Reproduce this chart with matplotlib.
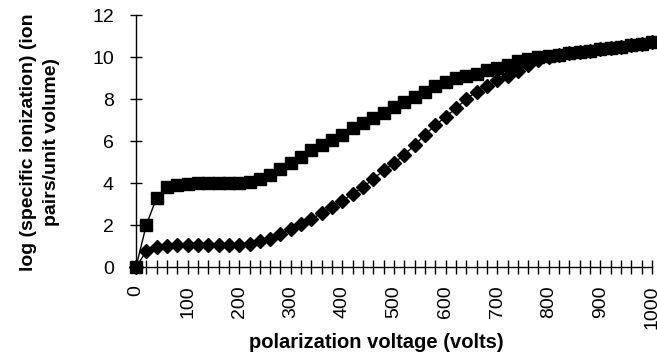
import matplotlib
matplotlib.use("Agg")
import matplotlib.pyplot as plt
import numpy as np
from matplotlib.ticker import MultipleLocator

plt.rcParams["font.family"] = ["Liberation Sans", "DejaVu Sans"]

# polarization voltage, one reading every 20 V
voltage = list(range(0, 1001, 20))

# upper curve (square markers)
ionization_sq = [
    0.0, 2.0, 3.3, 3.8, 3.9, 3.95, 4.0, 4.0, 4.0, 4.0,
    4.0, 4.05, 4.2, 4.4, 4.65, 4.95, 5.25, 5.55, 5.8, 6.05,
    6.3, 6.6, 6.85, 7.1, 7.35, 7.6, 7.85, 8.1, 8.35, 8.6,
    8.8, 9.0, 9.1, 9.2, 9.4, 9.5, 9.6, 9.8, 9.9, 10.0,
    10.05, 10.1, 10.2, 10.25, 10.3, 10.4, 10.45, 10.5, 10.55, 10.6,
    10.7,
]

# lower curve (diamond markers)
ionization_dm = [
    0.0, 0.75, 0.95, 1.0, 1.05, 1.05, 1.05, 1.05, 1.05, 1.05,
    1.05, 1.1, 1.25, 1.35, 1.55, 1.8, 2.05, 2.3, 2.55, 2.85,
    3.15, 3.5, 3.8, 4.2, 4.6, 4.95, 5.35, 5.8, 6.3, 6.75,
    7.15, 7.55, 8.0, 8.35, 8.6, 8.9, 9.1, 9.35, 9.6, 9.85,
    10.0, 10.1, 10.2, 10.25, 10.3, 10.4, 10.45, 10.5, 10.55, 10.6,
    10.7,
]

W, H = 657, 357
fig = plt.figure(figsize=(W / 100, H / 100), dpi=100)
ax = fig.add_axes([136 / W, 1 - 267 / H, (652 - 136) / W, (267 - 15) / H])

ax.plot(voltage, ionization_dm, color="black", linewidth=1.0,
        marker="D", markersize=7, clip_on=False, zorder=3)
ax.plot(voltage, ionization_sq, color="black", linewidth=1.0,
        marker="s", markersize=8.5, clip_on=False, zorder=4)

ax.set_xlim(0, 1000)
ax.set_ylim(0, 12)
ax.spines["top"].set_visible(False)
ax.spines["right"].set_visible(False)
ax.spines["left"].set_linewidth(1.0)
ax.spines["bottom"].set_linewidth(1.0)

ax.yaxis.set_major_locator(MultipleLocator(2))
ax.xaxis.set_major_locator(MultipleLocator(100))
ax.xaxis.set_minor_locator(MultipleLocator(20))

ax.tick_params(axis="y", direction="inout", length=8, width=1.0,
               labelsize=14, pad=12)
ax.tick_params(axis="x", which="both", direction="inout", length=10,
               width=1.0, labelsize=14, pad=8)
ax.tick_params(axis="x", labelrotation=90)

fig.text(376 / W, 1 - 342 / H, "polarization voltage (volts)",
         ha="center", va="center", fontsize=14.5, fontweight="bold")
fig.text(40 / W, 1 - 142 / H,
         "log (specific ionization) (ion\npairs/unit volume)",
         rotation=90, ha="center", va="center", multialignment="center",
         fontsize=14, fontweight="bold", linespacing=1.5)

fig.savefig("out.png", dpi=100)
